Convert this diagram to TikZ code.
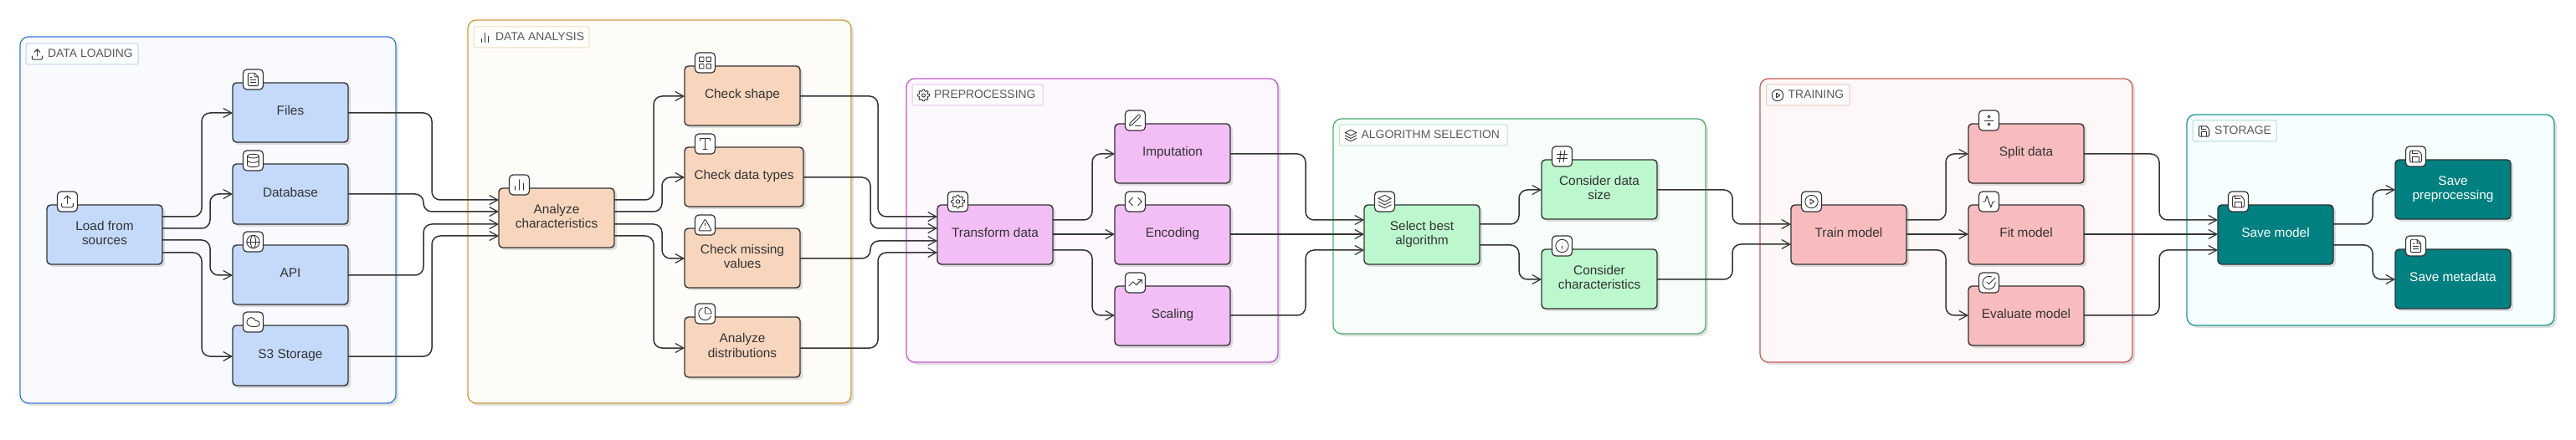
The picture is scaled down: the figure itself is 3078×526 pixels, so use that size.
\documentclass[tikz,border=0pt]{standalone}
\usepackage{fontspec}
\setmainfont{Liberation Sans}
\usetikzlibrary{arrows.meta,shadows}
\definecolor{ink}{HTML}{333333}
\definecolor{gA}{HTML}{3F7BD6}\definecolor{gAf}{HTML}{F8FAFE}\definecolor{nA}{HTML}{C5DAFB}
\definecolor{gB}{HTML}{D49A3E}\definecolor{gBf}{HTML}{FDFCF8}\definecolor{nB}{HTML}{F8D6BE}
\definecolor{gC}{HTML}{C657CF}\definecolor{gCf}{HTML}{FCF8FE}\definecolor{nC}{HTML}{F2BEF5}
\definecolor{gD}{HTML}{4DAF70}\definecolor{gDf}{HTML}{F7FDF9}\definecolor{nD}{HTML}{BCF7CE}
\definecolor{gE}{HTML}{C95A5A}\definecolor{gEf}{HTML}{FDF7F7}\definecolor{nE}{HTML}{F8BCBF}
\definecolor{gF}{HTML}{1F9696}\definecolor{gFf}{HTML}{F6FEFF}\definecolor{nF}{HTML}{008080}
\tikzset{
  softshadow/.style={drop shadow={shadow xshift=3pt,shadow yshift=-3pt,fill=black,opacity=0.12}},
  groupbox/.style={rectangle,rounded corners=10pt,line width=1.3pt,inner sep=0pt,outer sep=0pt,softshadow},
  stepbox/.style={rectangle,rounded corners=4.5pt,draw=ink,line width=1.4pt,inner sep=0pt,outer sep=0pt,softshadow,
    text=ink,font=\fontsize{15.4}{17.2}\selectfont,align=center},
  iconbox/.style={rectangle,rounded corners=4.5pt,draw=ink,line width=1.2pt,fill=white,inner sep=0pt,outer sep=0pt,
    minimum width=24pt,minimum height=24pt},
  tagbox/.style={rectangle,rounded corners=2pt,line width=1pt,fill=white,fill opacity=0.7,inner sep=0pt,outer sep=0pt},
  tagtext/.style={anchor=west,inner sep=0pt,text=black!65,font=\fontsize{13.9}{15}\selectfont},
  conn/.style={draw=ink,line width=1.5pt,rounded corners=10pt,-{Straight Barb[length=10pt,width=11pt,line width=1.2pt]}},
  glyph/.style={draw=ink,line width=0.9pt,line cap=round,line join=round},
}
% group: name x1 y1 x2 y2 colour
\newcommand\grp[6]{\node[groupbox,draw=#6,fill=#6f,minimum width={(#4-#2)*1pt},minimum height={(#5-#3)*1pt}] (#1) at ({(#2+#4)/2},{(#3+#5)/2}) {};}
% tag: name x1 y1 x2 y2 colour text iconcmd
\newcommand\tagl[8]{\node[tagbox,draw=#6!35,minimum width={(#4-#2)*1pt},minimum height={(#5-#3)*1pt}] (#1) at ({(#2+#4)/2},{(#3+#5)/2}) {};
  \node[tagtext] (#1t) at ({#2+26},{(#3+#5)/2-0.5}) {#7};
  \glyphat{#2+13.5}{(#3+#5)/2+0.5}{.68}{#8}}
% step: name x1 y1 x2 y2 fill text-colour text iconcmd
\newcommand\stp[9]{\node[stepbox,fill=#6,text=#7,minimum width={(#4-#2)*1pt},minimum height={(#5-#3)*1pt}] (#1) at ({(#2+#4)/2},{(#3+#5)/2}) {\raisebox{1.8pt}{\begin{tabular}{@{}c@{}}#8\end{tabular}}};
  \node[iconbox] (#1i) at ({#2+24.5},{#3-4}) {};
  \glyphat{#2+24.5}{#3-4}{.77}{#9}}
\newcommand\glyphat[4]{\begin{scope}[shift={({#1-12*#3},{#2-12*#3})},x=#3pt,y=-#3pt]#4\end{scope}}
\newcommand\conn[5]{\draw[conn] (#1.east |- 0,#2) -- (#3,#2) -- (#3,#5) -- (#4.west |- 0,#5);}
\newcommand\connS[3]{\draw[conn] (#1.east |- 0,#2) -- (#3.west |- 0,#2);}
% glyphs on a 24 grid
\newcommand\gUpload{\draw[glyph] (21,15) -- (21,19) arc[start angle=0,end angle=90,radius=2] -- (5,21) arc[start angle=90,end angle=180,radius=2] -- (3,15);\draw[glyph] (17,8) -- (12,3) -- (7,8);\draw[glyph] (12,3) -- (12,15);}
\newcommand\gFile{\draw[glyph,rounded corners=1.3pt] (14,2) -- (4,2) -- (4,22) -- (20,22) -- (20,8) [sharp corners] -- (14,2) -- (14,8) -- (20,8);\draw[glyph] (16,13) -- (8,13) (16,17) -- (8,17) (10,9) -- (8,9);}
\newcommand\gDb{\draw[glyph] (12,5) ellipse[x radius=9,y radius=3];\draw[glyph] (3,5) -- (3,19) .. controls (3,20.66) and (7,22) .. (12,22) .. controls (17,22) and (21,20.66) .. (21,19) -- (21,5);\draw[glyph] (3,12) .. controls (3,13.66) and (7,15) .. (12,15) .. controls (17,15) and (21,13.66) .. (21,12);}
\newcommand\gGlobe{\draw[glyph] (12,12) circle[radius=10];\draw[glyph] (2,12) -- (22,12);\draw[glyph] (12,12) ellipse[x radius=4,y radius=10];}
\newcommand\gCloud{\draw[glyph] (17.5,19) -- (9,19) arc[start angle=90,end angle=343.4,radius=7] -- (17.5,10) arc[start angle=270,end angle=450,radius=4.5];}
\newcommand\gBars{\draw[glyph] (18,20) -- (18,10) (12,20) -- (12,4) (6,20) -- (6,14);}
\newcommand\gGrid{\draw[glyph,rounded corners=.5pt] (3,3) rectangle (10,10) (14,3) rectangle (21,10) (14,14) rectangle (21,21) (3,14) rectangle (10,21);}
\newcommand\gType{\draw[glyph] (4,7) -- (4,4) -- (20,4) -- (20,7) (9,20) -- (15,20) (12,4) -- (12,20);}
\newcommand\gWarn{\draw[glyph,rounded corners=1.3pt] (12,2.5) -- (22.5,21) -- (1.5,21) -- cycle;\draw[glyph] (12,9) -- (12,13) (12,17) -- (12,17.01);}
\newcommand\gPie{\draw[glyph] (21.21,15.89) arc[start angle=22.9,end angle=246.4,radius=10];\draw[glyph] (22,12) arc[start angle=0,end angle=-90,radius=10] -- (12,12) -- cycle;}
\newcommand\gGear{\begin{scope}[shift={(12,12)}]\draw[glyph] (0,0) circle[radius=3];\draw[glyph,rounded corners=.7pt] (-9:10.5) \foreach \a in {0,45,...,315}{ -- (\a-9:10.5) -- (\a+9:10.5) -- (\a+15:7.5) -- (\a+30:7.5)} -- cycle;\end{scope}}
\newcommand\gPen{\draw[glyph] (12,20) -- (21,20);\draw[glyph] (16.5,3.5) -- (4,16) -- (3,20) -- (7,19) -- (19.5,6.5) .. controls (21,4) and (19,2) .. (16.5,3.5);}
\newcommand\gCode{\draw[glyph] (16,18) -- (22,12) -- (16,6);\draw[glyph] (8,6) -- (2,12) -- (8,18);}
\newcommand\gTrend{\draw[glyph] (22,7) -- (13.5,15.5) -- (8.5,10.5) -- (2,17);\draw[glyph] (16,7) -- (22,7) -- (22,13);}
\newcommand\gLayers{\draw[glyph] (12,2) -- (2,7) -- (12,12) -- (22,7) -- cycle;\draw[glyph] (2,17) -- (12,22) -- (22,17);\draw[glyph] (2,12) -- (12,17) -- (22,12);}
\newcommand\gHash{\draw[glyph] (4,9) -- (20,9) (4,15) -- (20,15) (10,3) -- (8,21) (16,3) -- (14,21);}
\newcommand\gInfo{\draw[glyph] (12,12) circle[radius=10];\draw[glyph] (12,16) -- (12,12) (12,8) -- (12,8.01);}
\newcommand\gPlay{\draw[glyph] (12,12) circle[radius=10];\draw[glyph] (10,8) -- (16,12) -- (10,16) -- cycle;}
\newcommand\gDiv{\draw[glyph] (5,12) -- (19,12);\draw[glyph] (12,6) circle[radius=2];\draw[glyph] (12,18) circle[radius=2];}
\newcommand\gAct{\draw[glyph] (22,12) -- (18,12) -- (15,21) -- (9,3) -- (6,12) -- (2,12);}
\newcommand\gCheck{\draw[glyph] (22,11.08) -- (22,12) arc[start angle=0,end angle=294,radius=10];\draw[glyph] (22,4) -- (12,14.01) -- (9,11.01);}
\newcommand\gSave{\draw[glyph,rounded corners=1.3pt] (16,3) -- (3,3) -- (3,21) -- (21,21) -- (21,8) [sharp corners] -- (16,3);\draw[glyph] (17,21) -- (17,13) -- (7,13) -- (7,21) (7,3) -- (7,8) -- (15,8);}
\begin{document}
\begin{tikzpicture}[x=1pt,y=-1pt]
\useasboundingbox[fill=white] (0,0) rectangle (3078,526);
% groups
\grp{loading}{24}{44}{473}{482}{gA}
\grp{analysis}{559}{24}{1017}{482}{gB}
\grp{prep}{1083}{94}{1527}{433}{gC}
\grp{algo}{1593}{142}{2038}{399}{gD}
\grp{train}{2103}{94}{2548}{433}{gE}
\grp{store}{2613}{137}{3052}{389}{gF}
\tagl{tagA}{31}{52}{165}{77}{gA}{DATA LOADING}{\gUpload}
\tagl{tagB}{566}{32}{704}{57}{gB}{DATA ANALYSIS}{\gBars}
\tagl{tagC}{1090}{101}{1246}{126}{gC}{PREPROCESSING}{\gGear}
\tagl{tagD}{1600.5}{149}{1801}{174}{gD}{ALGORITHM SELECTION}{\gLayers}
\tagl{tagE}{2110.5}{101}{2210}{126}{gE}{TRAINING}{\gPlay}
\tagl{tagF}{2620}{144}{2720}{169}{gF}{STORAGE}{\gSave}
% steps
\stp{load}{56}{245}{194}{316}{nA}{ink}{Load from\\sources}{\gUpload}
\stp{files}{278}{99}{416}{170}{nA}{ink}{Files}{\gFile}
\stp{db}{278}{196}{416}{268}{nA}{ink}{Database}{\gDb}
\stp{api}{278}{293}{416}{364}{nA}{ink}{API}{\gGlobe}
\stp{sthree}{278}{389}{416}{461}{nA}{ink}{S3 Storage}{\gCloud}
\stp{ana}{596}{225}{734}{296}{nB}{ink}{Analyze\\characteristics}{\gBars}
\stp{shape}{818}{79}{956}{150}{nB}{ink}{Check shape}{\gGrid}
\stp{types}{818}{176}{960}{247}{nB}{ink}{Check data types}{\gType}
\stp{missing}{818}{273}{956}{344}{nB}{ink}{Check missing\\values}{\gWarn}
\stp{dist}{818}{379}{956}{451}{nB}{ink}{Analyze\\distributions}{\gPie}
\stp{trans}{1120}{245}{1258}{316}{nC}{ink}{Transform data}{\gGear}
\stp{imp}{1332}{148}{1470}{219}{nC}{ink}{Imputation}{\gPen}
\stp{enc}{1332}{245}{1470}{316}{nC}{ink}{Encoding}{\gCode}
\stp{scal}{1332}{342}{1470}{413}{nC}{ink}{Scaling}{\gTrend}
\stp{sel}{1630}{245}{1768}{316}{nD}{ink}{Select best\\algorithm}{\gLayers}
\stp{size}{1842}{191}{1980}{262}{nD}{ink}{Consider data\\size}{\gHash}
\stp{chars}{1842}{298}{1980}{369}{nD}{ink}{Consider\\characteristics}{\gInfo}
\stp{tm}{2140}{245}{2278}{316}{nE}{ink}{Train model}{\gPlay}
\stp{split}{2352}{148}{2490}{219}{nE}{ink}{Split data}{\gDiv}
\stp{fit}{2352}{245}{2490}{316}{nE}{ink}{Fit model}{\gAct}
\stp{eval}{2352}{342}{2490}{413}{nE}{ink}{Evaluate model}{\gCheck}
\stp{sm}{2650}{245}{2788}{316}{nF}{white}{Save model}{\gSave}
\stp{sp}{2862}{191}{3000}{262}{nF}{white}{Save\\preprocessing}{\gSave}
\stp{smeta}{2862}{298}{3000}{369}{nF}{white}{Save metadata}{\gFile}
% connectors
\conn{load}{259}{241}{files}{135}
\conn{load}{273}{251}{db}{232}
\conn{load}{287}{251}{api}{329}
\conn{load}{302}{241}{sthree}{426}
\conn{files}{135}{516}{ana}{239}
\conn{db}{232}{506}{ana}{253}
\conn{api}{329}{506}{ana}{268}
\conn{sthree}{426}{516}{ana}{282}
\conn{ana}{239}{781}{shape}{115}
\conn{ana}{253}{791}{types}{212}
\conn{ana}{268}{791}{missing}{309}
\conn{ana}{282}{781}{dist}{416}
\conn{shape}{115}{1049}{trans}{259}
\conn{types}{212}{1040}{trans}{273}
\conn{missing}{309}{1040}{trans}{288}
\conn{dist}{416}{1049}{trans}{302}
\conn{trans}{263}{1305}{imp}{184}
\connS{trans}{280}{enc}
\conn{trans}{299}{1305}{scal}{377}
\conn{imp}{184}{1560}{sel}{263}
\connS{enc}{280}{sel}
\conn{scal}{377}{1560}{sel}{299}
\conn{sel}{268}{1815}{size}{227}
\conn{sel}{293}{1815}{chars}{334}
\conn{size}{227}{2070}{tm}{268}
\conn{chars}{334}{2070}{tm}{292}
\conn{tm}{263}{2325}{split}{184}
\connS{tm}{280}{fit}
\conn{tm}{299}{2325}{eval}{377}
\conn{split}{184}{2580}{sm}{263}
\connS{fit}{280}{sm}
\conn{eval}{377}{2580}{sm}{299}
\conn{sm}{268}{2835}{sp}{227}
\conn{sm}{293}{2835}{smeta}{334}
\end{tikzpicture}
\end{document}
